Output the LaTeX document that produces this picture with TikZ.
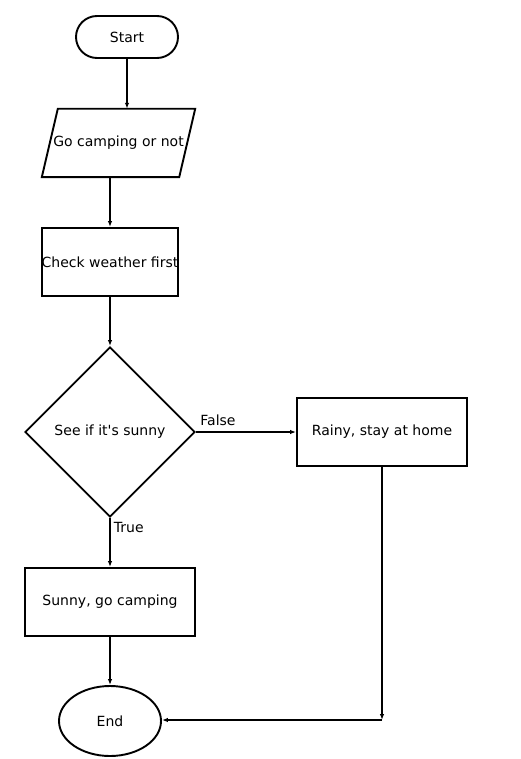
\documentclass[tikz,border=0pt]{standalone}
\usepackage{fontspec}
\setmainfont{DejaVu Sans}[Ligatures=TeXOff]
\usetikzlibrary{shapes.geometric,shapes.misc,arrows.meta,calc}
\begin{document}
\begin{tikzpicture}[x=1pt,y=-1pt,
  every node/.style={font=\fontsize{14}{16}\selectfont},
  box/.style={draw,line width=1.9pt,minimum width=#1,minimum height=68pt,inner sep=0pt},
  term/.style={draw,line width=1.9pt,rounded rectangle,minimum width=102pt,minimum height=42pt,inner sep=0pt},
  io/.style={minimum width=137pt,minimum height=68pt,inner sep=0pt},
  dec/.style={draw,line width=1.9pt,diamond,minimum width=170pt,minimum height=170pt,inner sep=0pt},
  endnode/.style={draw,line width=1.9pt,ellipse,minimum width=102pt,minimum height=70pt,inner sep=0pt},
  arr/.style={line width=1.9pt,-{Latex[length=6pt,width=4.5pt]}},
  lbl/.style={font=\fontsize{14}{16}\selectfont}]
\useasboundingbox (0,0) rectangle (520,759);
\node[term] (start) at (127,37) {Start};
\node[io] (para) at (118.5,143) {Go camping or not};
\draw[line width=1.9pt,line join=miter] ($(para.north west)+(8,0)$) -- ($(para.north east)+(8,0)$) -- ($(para.south east)+(-8,0)$) -- ($(para.south west)+(-8,0)$) -- cycle;
\node[box=136pt] (check) at (110,262) {Check weather first};
\node[dec] (sunny) at (110,432) {See if it's sunny};
\node[box=170pt] (rainy) at (382,432) {Rainy, stay at home};
\node[box=170pt] (camp) at (110,602) {Sunny, go camping};
\node[endnode] (end) at (110,721) {End};
\coordinate (corner) at (382,720);
\draw[arr] (start) -- (start |- para.north);
\draw[arr] (check.north |- para.south) -- (check.north);
\draw[arr] (check) -- (sunny);
\draw[arr] (sunny.east) -- node[lbl,above,pos=0.22,inner sep=5pt] (flbl) {False} (rainy.west);
\draw[arr] (sunny.south) -- node[lbl,right,pos=0.2,inner sep=3pt] (tlbl) {True} (camp.north);
\draw[arr] (camp) -- (end);
\draw[arr] (rainy) -- (corner);
\draw[arr] (corner) -- (end.east |- corner);
\end{tikzpicture}
\end{document}
